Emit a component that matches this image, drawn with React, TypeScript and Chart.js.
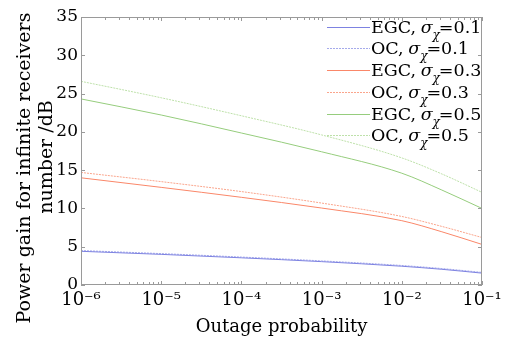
import React, { useEffect, useRef } from "react";
import { Chart, registerables } from "chart.js";

Chart.register(...registerables);

const outageProb = [1e-6, 1e-5, 1e-4, 1e-3, 1e-2, 0.0316, 1e-1];
const egc01 = [4.4, 4.0, 3.55, 3.05, 2.45, 2.05, 1.55];
const oc01 = [4.5, 4.1, 3.65, 3.15, 2.55, 2.15, 1.65];
const egc03 = [14.0, 12.75, 11.45, 10.05, 8.4, 6.95, 5.3];
const oc03 = [14.7, 13.5, 12.2, 10.7, 8.95, 7.65, 6.2];
const egc05 = [24.3, 22.2, 19.85, 17.4, 14.6, 12.4, 10.0];
const oc05 = [26.6, 24.45, 22.1, 19.6, 16.6, 14.5, 12.1];

const methods = ["EGC", "OC", "EGC", "OC", "EGC", "OC"];
const sigmas = ["0.1", "0.1", "0.3", "0.3", "0.5", "0.5"];
const seriesValues = [egc01, oc01, egc03, oc03, egc05, oc05];
const seriesColors = [
  "rgb(125,130,225)",
  "rgb(165,170,235)",
  "rgb(250,135,105)",
  "rgb(250,165,140)",
  "rgb(150,205,125)",
  "rgb(190,225,170)",
];
const seriesDash = [[], [2, 1], [], [2, 1], [], [2, 1]];

const xTickValues = [1e-6, 1e-5, 1e-4, 1e-3, 1e-2, 1e-1];
const xTickLabels = ["10⁻⁶", "10⁻⁵", "10⁻⁴", "10⁻³", "10⁻²", "10⁻¹"];
const yTickValues = [0, 5, 10, 15, 20, 25, 30, 35];
const yTitleLines = ["Power gain for infinite receivers", "number /dB"];
const xTitle = "Outage probability";

const FONT = "'DejaVu Serif', serif";
const FRAME = "#9a9a9a";

const decorPlugin = {
  id: "decor",
  afterDraw(chart: any) {
    const ctx = chart.ctx as CanvasRenderingContext2D;
    const { left, right, top, bottom } = chart.chartArea;
    const xs = chart.scales.x;
    const ys = chart.scales.y;
    ctx.save();
    // frame
    ctx.strokeStyle = FRAME;
    ctx.lineWidth = 1;
    ctx.strokeRect(left + 0.5, top + 0.5, right - left - 1, bottom - top - 1);
    // y ticks inward both sides
    ctx.beginPath();
    for (const v of yTickValues) {
      const py = Math.round(ys.getPixelForValue(v)) + 0.5;
      ctx.moveTo(left, py);
      ctx.lineTo(left + 4, py);
      ctx.moveTo(right, py);
      ctx.lineTo(right - 4, py);
    }
    // x ticks (major + minor) inward both sides
    for (let d = -6; d <= -1; d++) {
      for (let m = 1; m <= 9; m++) {
        const v = m * Math.pow(10, d);
        if (v > 0.1 + 1e-12) break;
        const px = Math.round(xs.getPixelForValue(v)) + 0.5;
        const len = m === 1 ? 4 : 3;
        ctx.moveTo(px, bottom);
        ctx.lineTo(px, bottom - len);
        ctx.moveTo(px, top);
        ctx.lineTo(px, top + len);
      }
    }
    ctx.stroke();

    // y title (two lines, rotated)
    ctx.fillStyle = "#000";
    ctx.font = `19px ${FONT}`;
    ctx.textAlign = "center";
    ctx.textBaseline = "middle";
    const titleX = [25, 47];
    const titleY = [168, 157];
    yTitleLines.forEach((t, i) => {
      ctx.save();
      ctx.translate(titleX[i], titleY[i]);
      ctx.rotate(-Math.PI / 2);
      ctx.fillText(t, 0, 0);
      ctx.restore();
    });

    // legend
    const lx0 = 327;
    const lx1 = 370;
    chart.data.datasets.forEach((ds: any, i: number) => {
      const cy = 26.7 + i * 21.7;
      ctx.beginPath();
      ctx.strokeStyle = ds.borderColor;
      ctx.setLineDash(ds.borderDash || []);
      ctx.lineWidth = 1;
      ctx.moveTo(lx0, Math.round(cy) + 0.5);
      ctx.lineTo(lx1, Math.round(cy) + 0.5);
      ctx.stroke();
      ctx.setLineDash([]);
      ctx.fillStyle = "#000";
      ctx.textAlign = "left";
      ctx.textBaseline = "alphabetic";
      const base = cy + 6;
      let x = lx1 + 1;
      ctx.font = `17.5px ${FONT}`;
      const p1 = `${methods[i]}, `;
      ctx.fillText(p1, x, base);
      x += ctx.measureText(p1).width - 1;
      ctx.font = `italic 17.5px ${FONT}`;
      ctx.fillText("σ", x, base);
      x += ctx.measureText("σ").width;
      ctx.font = `italic 12px ${FONT}`;
      ctx.fillText("χ", x, base + 6);
      x += ctx.measureText("χ").width - 1;
      ctx.font = `17.5px ${FONT}`;
      ctx.fillText(`=${sigmas[i]}`, x, base);
    });
    ctx.restore();
  },
};

export default function App() {
  const ref = useRef<HTMLCanvasElement | null>(null);
  useEffect(() => {
    if (!ref.current) return;
    const chart = new Chart(ref.current, {
      type: "line",
      data: {
        datasets: seriesValues.map((vals, i) => ({
          label: `${methods[i]}, σχ=${sigmas[i]}`,
          data: vals.map((y, j) => ({ x: outageProb[j], y })),
          borderColor: seriesColors[i],
          borderDash: seriesDash[i],
          borderWidth: 1,
          pointRadius: 0,
          cubicInterpolationMode: "monotone" as const,
          fill: false,
        })),
      },
      options: {
        responsive: false,
        animation: false,
        layout: { padding: { top: 17, right: 26, left: 0, bottom: 0 } },
        plugins: {
          legend: { display: false },
          tooltip: { enabled: false },
        },
        scales: {
          x: {
            type: "logarithmic",
            min: 1e-6,
            max: 1e-1,
            grid: { display: false, drawTicks: false },
            border: { display: false },
            afterBuildTicks: (s: any) => {
              s.ticks = xTickValues.map((v) => ({ value: v }));
            },
            afterFit: (s: any) => {
              s.height = 53;
            },
            ticks: {
              autoSkip: false,
              maxRotation: 0,
              padding: 5,
              color: "#000",
              font: { family: FONT, size: 18 },
              callback: (v: any) => {
                const idx = xTickValues.findIndex((t) => Math.abs(Math.log10(t) - Math.log10(v)) < 1e-6);
                return idx >= 0 ? xTickLabels[idx] : "";
              },
            },
            title: {
              display: true,
              text: xTitle,
              color: "#000",
              font: { family: FONT, size: 18 },
              padding: { top: 0, bottom: 0 },
            },
          },
          y: {
            type: "linear",
            min: 0,
            max: 35,
            grid: { display: false, drawTicks: false },
            border: { display: false },
            afterBuildTicks: (s: any) => {
              s.ticks = yTickValues.map((v) => ({ value: v }));
            },
            afterFit: (s: any) => {
              s.width = 81;
            },
            ticks: {
              padding: 3,
              color: "#000",
              font: { family: FONT, size: 17 },
            },
          },
        },
      },
      plugins: [decorPlugin],
    });
    return () => chart.destroy();
  }, []);
  return (
    <div style={{ position: "fixed", left: 0, top: 0, width: 508, height: 338, background: "#fff" }}>
      <canvas ref={ref} width={508} height={338} />
    </div>
  );
}
